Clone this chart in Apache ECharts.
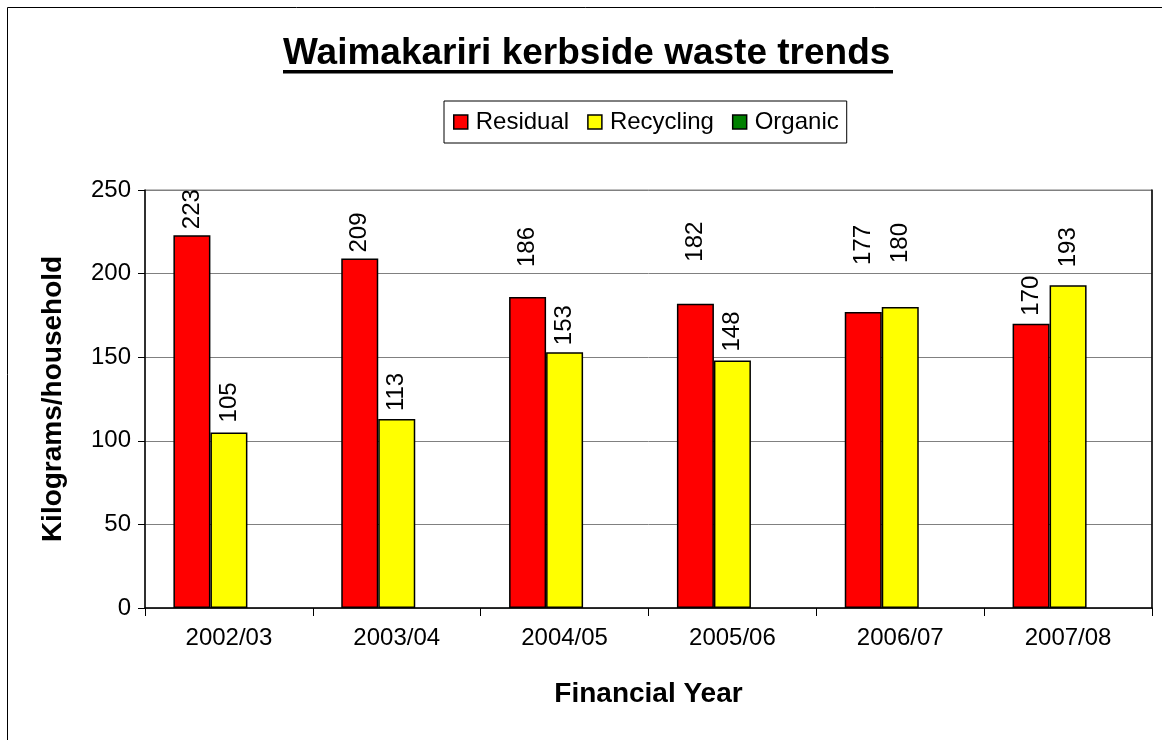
<!DOCTYPE html>
<html>
<head>
<meta charset="utf-8">
<script src="https://cdn.jsdelivr.net/npm/echarts@6/dist/echarts.min.js"></script>
<style>
html,body{margin:0;padding:0;background:#fff;}
#chart{width:1162px;height:740px;}
</style>
</head>
<body>
<div id="chart"></div>
<script>
const categories = ['2002/03','2003/04','2004/05','2005/06','2006/07','2007/08'];
const residual = [223, 209, 186, 182, 177, 170];
const recycling = [105, 113, 153, 148, 180, 193];
const organic = [null, null, null, null, null, null];
const yTicks = {min: 0, max: 250, interval: 50};

// label placement (px above bar top), as positioned in the original chart
const residualLabelGap = [6, 6, 30, 42, 47, 8];
const recyclingLabelGap = [10, 8, 7, 9, 44, 18];

const FONT = 'Arial, "Liberation Sans", sans-serif';
const chart = echarts.init(document.getElementById('chart'), null, {renderer: 'canvas'});

const labelStyle = {
  show: true, position: 'top', rotate: 90, distance: 8,
  align: 'left', verticalAlign: 'middle',
  color: '#000', fontSize: 24, fontFamily: FONT
};

function barSeries(name, values, color, gaps) {
  const data = values.map((v, i) => gaps ? {value: v, label: {distance: gaps[i]}} : v);
  return {
    name: name, type: 'bar', data: data,
    barWidth: 37, barGap: '0%',
    itemStyle: {color: color, borderColor: '#000', borderWidth: 1.5},
    label: labelStyle,
    emphasis: {disabled: true}
  };
}

chart.setOption({
  animation: false,
  backgroundColor: '#fff',
  title: {
    text: 'Waimakariri kerbside waste trends',
    left: 283, top: 35, padding: 0,
    textStyle: {fontSize: 37, fontWeight: 'bold', fontFamily: FONT, color: '#000'}
  },
  graphic: [
    {type: 'rect', left: 5, top: 5, shape: {width: 1200, height: 800},
     style: {fill: 'none', stroke: '#000', lineWidth: 1}, silent: true, z: -1},
    {type: 'rect', left: 283, top: 70, shape: {width: 610, height: 3.5},
     style: {fill: '#000'}, silent: true}
  ],
  legend: {
    data: ['Residual', 'Recycling', 'Organic'],
    left: 444, top: 101,
    padding: [9, 8, 9, 9],
    itemWidth: 14, itemHeight: 14, itemGap: 18,
    borderColor: '#000', borderWidth: 1,
    icon: 'rect',
    itemStyle: {borderColor: '#000', borderWidth: 1.5},
    textStyle: {fontSize: 24, fontFamily: FONT, color: '#000', padding: [0, 0, 0, 3]}
  },
  grid: {left: 145, right: 10, top: 190, bottom: 132, show: true, borderColor: '#808080', borderWidth: 1},
  xAxis: {
    type: 'category', data: categories,
    name: 'Financial Year', nameLocation: 'middle', nameGap: 72,
    nameTextStyle: {fontSize: 28, fontWeight: 'bold', fontFamily: FONT, color: '#000'},
    axisLine: {lineStyle: {color: '#000', width: 1.5}},
    axisTick: {show: true, length: 8, lineStyle: {color: '#000'}, alignWithLabel: false},
    axisLabel: {fontSize: 24, fontFamily: FONT, color: '#000', margin: 18}
  },
  yAxis: [{
    type: 'value', min: yTicks.min, max: yTicks.max, interval: yTicks.interval,
    name: 'Kilograms/household', nameLocation: 'middle', nameGap: 78,
    nameTextStyle: {fontSize: 28, fontWeight: 'bold', fontFamily: FONT, color: '#000'},
    axisLine: {show: true, lineStyle: {color: '#000', width: 1.5}},
    axisTick: {show: true, length: 7, lineStyle: {color: '#000'}},
    axisLabel: {fontSize: 24, fontFamily: FONT, color: '#000', margin: 14},
    splitLine: {show: true, lineStyle: {color: '#808080', width: 1}}
  }, {
    type: 'value', position: 'right', min: yTicks.min, max: yTicks.max, interval: yTicks.interval,
    axisLine: {show: true, lineStyle: {color: '#000', width: 1.5}},
    axisTick: {show: false}, axisLabel: {show: false}, splitLine: {show: false}
  }],
  series: [
    barSeries('Residual', residual, '#FF0000', residualLabelGap),
    barSeries('Recycling', recycling, '#FFFF00', recyclingLabelGap),
    barSeries('Organic', organic, '#008000', null)
  ]
});
</script>
</body>
</html>
